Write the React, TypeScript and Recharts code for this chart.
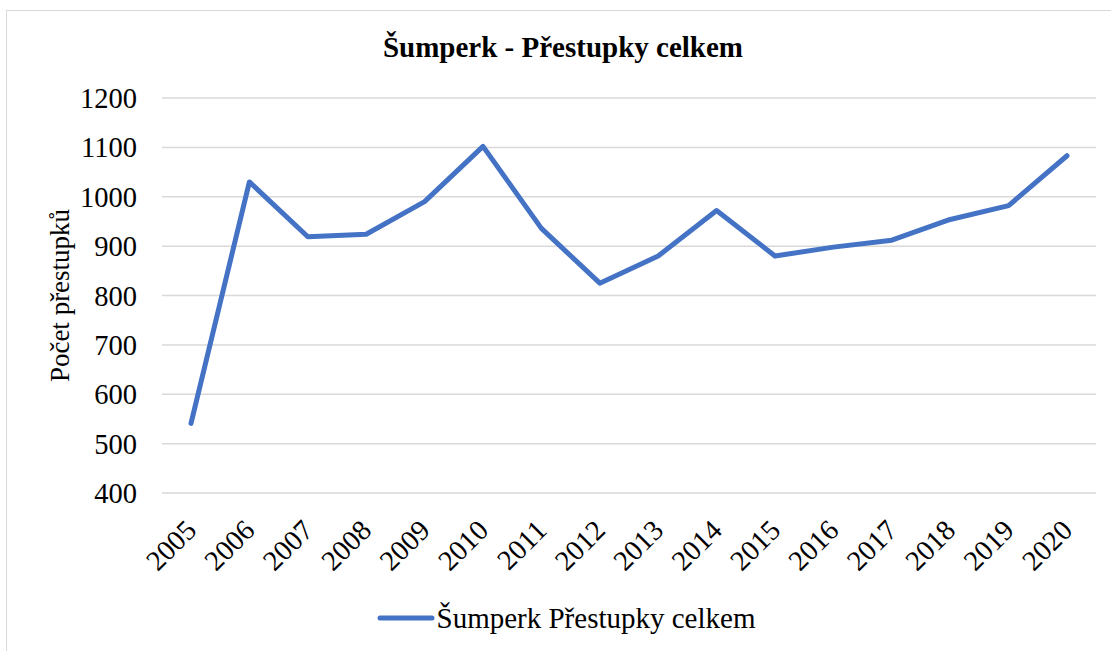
import { LineChart, Line, XAxis, YAxis, CartesianGrid, Legend, Label } from 'recharts';

const years = ['2005', '2006', '2007', '2008', '2009', '2010', '2011', '2012', '2013', '2014', '2015', '2016', '2017', '2018', '2019', '2020'];
const offences = [541, 1030, 919, 924, 990, 1102, 936, 825, 880, 972, 880, 898, 912, 954, 982, 1083];
const yTicks = [400, 500, 600, 700, 800, 900, 1000, 1100, 1200];

const seriesName = 'Šumperk Přestupky celkem';
const font = '"Liberation Serif", "Times New Roman", serif';
const blue = '#4472C4';

const data = years.map((year, i) => ({ year, value: offences[i] }));

function YearTick({ x, y, payload }: any) {
  const ax = x + 7;
  const ay = y + 31;
  return (
    <text
      x={ax}
      y={ay}
      transform={`rotate(-45, ${ax}, ${ay})`}
      textAnchor="end"
      fontSize={28.5}
      fontFamily={font}
      fill="#000"
    >
      {payload.value}
    </text>
  );
}

function LegendContent() {
  return (
    <div
      style={{
        height: 60,
        display: 'flex',
        alignItems: 'center',
        justifyContent: 'center',
        paddingRight: 16,
        paddingBottom: 6,
        boxSizing: 'border-box',
        fontFamily: font,
        fontSize: 29,
        color: '#000',
      }}
    >
      <svg width={60} height={10} style={{ display: 'block' }}>
        <line x1={3} y1={5} x2={55} y2={5} stroke={blue} strokeWidth={5} strokeLinecap="round" />
      </svg>
      <span>{seriesName}</span>
    </div>
  );
}

export default function App() {
  return (
    <div
      style={{
        position: 'absolute',
        left: 0,
        top: 0,
        width: 1111,
        height: 651,
        overflow: 'hidden',
        background: '#fff',
      }}
    >
      <div
        style={{
          position: 'absolute',
          left: 6,
          top: 10,
          width: 1120,
          height: 660,
          border: '1.5px solid #d9d9d9',
          boxSizing: 'border-box',
        }}
      />
      <div
        style={{
          position: 'absolute',
          left: 0,
          top: 31,
          width: 1126,
          textAlign: 'center',
          fontFamily: font,
          fontWeight: 'bold',
          fontSize: 29,
          color: '#000',
        }}
      >
        Šumperk - Přestupky celkem
      </div>
      <div style={{ position: 'absolute', left: 0, top: 0 }}>
        <LineChart width={1111} height={651} data={data} margin={{ top: 98, right: 15, bottom: 0, left: 52 }}>
          <CartesianGrid vertical={false} stroke="#d9d9d9" strokeWidth={1.5} />
          <XAxis
            dataKey="year"
            axisLine={false}
            tickLine={false}
            height={98}
            interval={0}
            padding={{ left: 29, right: 29 }}
            tick={<YearTick />}
          />
          <YAxis
            domain={[400, 1200]}
            ticks={yTicks}
            width={110}
            axisLine={false}
            tickLine={false}
            tickSize={0}
            tickMargin={25}
            tick={{ fontSize: 28.5, fontFamily: font, fill: '#000' }}
          >
            <Label
              content={({ viewBox }: any) => {
                const cx = 60;
                const cy = viewBox.y + viewBox.height / 2;
                return (
                  <text
                    x={cx}
                    y={cy}
                    transform={`rotate(-90, ${cx}, ${cy})`}
                    textAnchor="middle"
                    dominantBaseline="central"
                    fontSize={27}
                    fontFamily={font}
                    fill="#000"
                  >
                    Počet přestupků
                  </text>
                );
              }}
            />
          </YAxis>
          <Legend verticalAlign="bottom" height={60} content={<LegendContent />} />
          <Line
            type="linear"
            dataKey="value"
            name={seriesName}
            stroke={blue}
            strokeWidth={5}
            strokeLinecap="round"
            strokeLinejoin="round"
            dot={false}
            activeDot={false}
            isAnimationActive={false}
          />
        </LineChart>
      </div>
    </div>
  );
}
